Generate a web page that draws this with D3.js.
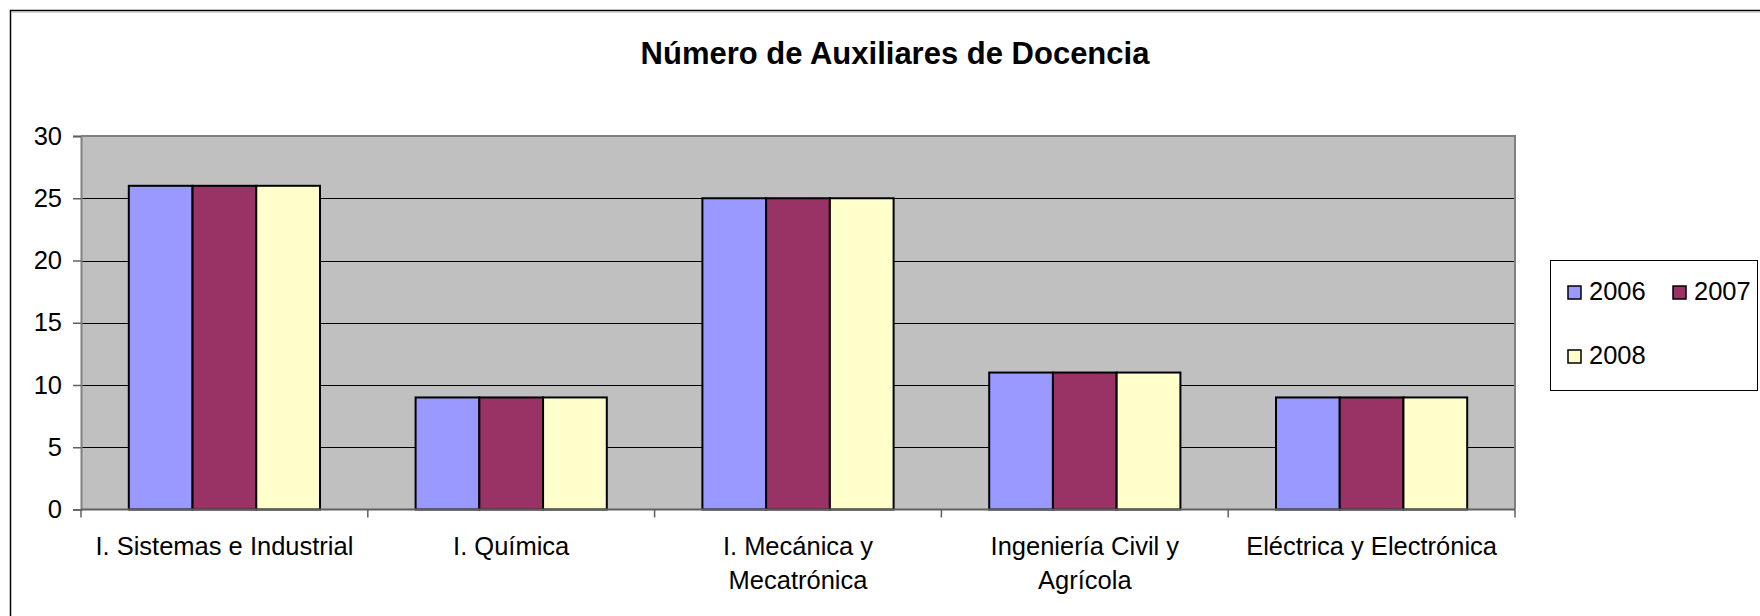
<!DOCTYPE html>
<html>
<head>
<meta charset="utf-8">
<script src="https://cdn.jsdelivr.net/npm/d3@7/dist/d3.min.js"></script>
<style>
  html, body { margin: 0; padding: 0; background: #fff; }
  svg { display: block; font-family: Arial, "Liberation Sans", sans-serif; }
</style>
</head>
<body>
<svg id="chart" width="1760" height="616"></svg>
<script>
// Datos del gráfico
const categories = [
    'I. Sistemas e Industrial',
    'I. Química',
    'I. Mecánica y\nMecatrónica',
    'Ingeniería Civil y\nAgrícola',
    'Eléctrica y Electrónica'
];
const seriesNames = ['2006', '2007', '2008'];
const values2006 = [26, 9, 25, 11, 9];
const values2007 = [26, 9, 25, 11, 9];
const values2008 = [26, 9, 25, 11, 9];
const yTicks = [0, 5, 10, 15, 20, 25, 30];
const seriesColors = ['#9999FF', '#993366', '#FFFFCC'];
const title = 'Número de Auxiliares de Docencia';

const seriesValues = [values2006, values2007, values2008];

const svg = d3.select('#chart');

// marco exterior del gráfico
svg.append('rect')
    .attr('x', 10.5).attr('y', 10.5)
    .attr('width', 1800).attr('height', 700)
    .attr('fill', '#fff')
    .attr('stroke', '#000')
    .attr('stroke-width', 1.5);
svg.append('line')
    .attr('x1', 12).attr('x2', 1760)
    .attr('y1', 12).attr('y2', 12)
    .attr('stroke', '#aaa');

// título
svg.append('text')
    .attr('x', 895)
    .attr('y', 64)
    .attr('text-anchor', 'middle')
    .style('font-size', '31px')
    .style('font-weight', 'bold')
    .text(title);

const plot = { left: 81, right: 1515, top: 136, bottom: 509.5 };

const x = d3.scaleBand()
    .domain(categories)
    .range([plot.left, plot.right])
    .paddingInner(1 / 3)
    .paddingOuter(1 / 6);

const xSeries = d3.scaleBand()
    .domain(seriesNames)
    .range([0, x.bandwidth()]);

const y = d3.scaleLinear()
    .domain([0, 30])
    .range([plot.bottom, plot.top]);

// fondo del área de trazado
svg.append('rect')
    .attr('x', plot.left).attr('y', plot.top)
    .attr('width', plot.right - plot.left)
    .attr('height', plot.bottom - plot.top)
    .attr('fill', '#C0C0C0');

// líneas de cuadrícula
svg.append('g')
    .selectAll('line')
    .data(yTicks.filter(d => d > 0 && d < 30))
    .join('line')
    .attr('x1', plot.left).attr('x2', plot.right)
    .attr('y1', d => Math.round(y(d)) + 0.5)
    .attr('y2', d => Math.round(y(d)) + 0.5)
    .attr('stroke', '#000')
    .attr('stroke-width', 1);

// borde superior y derecho
svg.append('path')
    .attr('d', `M${plot.left},${plot.top}H${plot.right}V${plot.bottom}`)
    .attr('fill', 'none')
    .attr('stroke', '#808080')
    .attr('stroke-width', 2);

// barras
const groups = svg.append('g')
    .selectAll('g')
    .data(categories)
    .join('g')
    .attr('transform', d => `translate(${x(d)},0)`);

groups.selectAll('rect')
    .data((d, i) => seriesNames.map((s, j) => ({ s, j, v: seriesValues[j][i] })))
    .join('rect')
    .attr('x', d => xSeries(d.s))
    .attr('y', d => y(d.v))
    .attr('width', xSeries.bandwidth())
    .attr('height', d => y(0) - y(d.v))
    .attr('fill', d => seriesColors[d.j])
    .attr('stroke', '#000')
    .attr('stroke-width', 2);

// eje Y
const yAxis = svg.append('g')
    .attr('transform', `translate(${plot.left},0)`)
    .call(d3.axisLeft(y).tickValues(yTicks).tickSize(8).tickPadding(11));
yAxis.select('.domain').attr('stroke', '#808080').attr('stroke-width', 2);
yAxis.selectAll('.tick line').attr('stroke', '#606060').attr('stroke-width', 1.5);
yAxis.selectAll('.tick text')
    .style('font-size', '25.5px')
    .style('font-family', 'Arial, "Liberation Sans", sans-serif')
    .attr('fill', '#000');

// eje X: línea, marcas entre categorías y etiquetas
const xAxis = svg.append('g');
xAxis.append('line')
    .attr('x1', plot.left).attr('x2', plot.right)
    .attr('y1', plot.bottom).attr('y2', plot.bottom)
    .attr('stroke', '#606060')
    .attr('stroke-width', 2);

const boundaries = categories.map(c => x(c) - x.step() * x.paddingOuter());
boundaries.push(plot.right);
xAxis.selectAll('.xtick')
    .data(boundaries)
    .join('line')
    .attr('class', 'xtick')
    .attr('x1', d => d).attr('x2', d => d)
    .attr('y1', plot.bottom).attr('y2', plot.bottom + 8)
    .attr('stroke', '#606060')
    .attr('stroke-width', 1.5);

const labels = xAxis.selectAll('.xlabel')
    .data(categories)
    .join('text')
    .attr('class', 'xlabel')
    .attr('x', d => x(d) + x.bandwidth() / 2)
    .attr('y', 555)
    .attr('text-anchor', 'middle')
    .style('font-size', '25.5px');

labels.each(function(d) {
    const lines = d.split('\n');
    d3.select(this).selectAll('tspan')
        .data(lines)
        .join('tspan')
        .attr('x', x(d) + x.bandwidth() / 2)
        .attr('dy', (l, i) => i === 0 ? 0 : 34)
        .text(l => l);
});

// leyenda
const legend = svg.append('g');
legend.append('rect')
    .attr('x', 1550.5).attr('y', 260.5)
    .attr('width', 207).attr('height', 130)
    .attr('fill', '#fff')
    .attr('stroke', '#000')
    .attr('stroke-width', 1);

const legendPos = [
    { x: 1568, y: 286 },
    { x: 1673, y: 286 },
    { x: 1568, y: 350 }
];

seriesNames.forEach((s, i) => {
    const item = legend.append('g')
        .attr('transform', `translate(${legendPos[i].x},${legendPos[i].y})`);
    item.append('rect')
        .attr('width', 13).attr('height', 13)
        .attr('fill', seriesColors[i])
        .attr('stroke', '#000')
        .attr('stroke-width', 1.5);
    item.append('text')
        .attr('x', 21)
        .attr('y', 14)
        .style('font-size', '25.5px')
        .text(s);
});
</script>
</body>
</html>
